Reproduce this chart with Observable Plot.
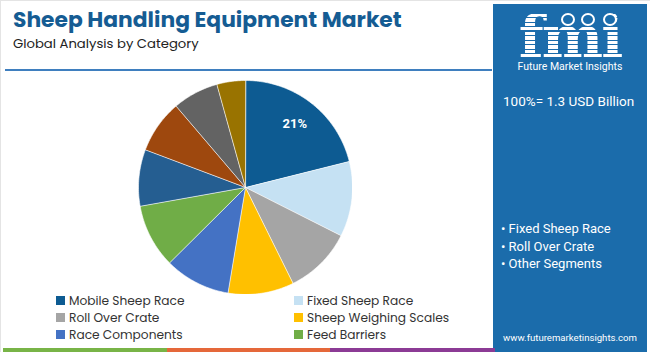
<!DOCTYPE html>
<html>
<head>
<meta charset="utf-8">
<script src="https://cdn.jsdelivr.net/npm/d3@7"></script>
<script src="https://cdn.jsdelivr.net/npm/@observablehq/plot@0.6"></script>
<style>
  html, body { margin: 0; padding: 0; background: #fff; }
  #wrap { position: relative; width: 650px; height: 352px; overflow: hidden; font-family: "Poppins", "Inter", "Roboto", sans-serif; box-sizing: border-box; border-left: 1px solid #e4e4e4; border-top: 1px solid #e4e4e4; }
  .abs { position: absolute; white-space: nowrap; }
  #title { left: 12px; top: 8px; font-size: 21.8px; line-height: 22px; font-weight: 700; color: #155c93; }
  #subtitle { left: 12px; top: 36px; font-size: 13.2px; line-height: 14px; color: #222; }
  #rule { left: 4px; top: 68px; width: 487px; height: 2px; background: #3f7fbf; }
  #pie { left: 137px; top: 79px; }
  .leg { font-size: 12.2px; line-height: 13px; color: #333; display: flex; align-items: center; }
  .sw { width: 9px; height: 9px; margin-right: 4px; display: inline-block; }
  #panel { left: 492px; top: 3px; width: 154px; height: 349px; background: #1b6cab; color: #fff; }
  #fmi { left: 0; width: 154px; top: 10px; text-align: center; font-family: "DejaVu Serif", serif; font-weight: 700; font-size: 58px; line-height: 46px; height: 46px;
         color: transparent; background: repeating-linear-gradient(to bottom, #fff 0px, #fff 3px, #1b6cab 3px, #1b6cab 4.5px); -webkit-background-clip: text; background-clip: text; letter-spacing: -2px; }
  #fmisub { left: 0; width: 154px; top: 57px; text-align: center; font-size: 10.5px; line-height: 11px; font-family: "Roboto", sans-serif; }
  .ico { position: absolute; width: 10px; height: 9px; border-radius: 50%; border: 2px solid #fff; background: #1b6cab; }
  #total { left: 10px; top: 90px; font-size: 13.5px; line-height: 14px; font-family: "Roboto", sans-serif; }
  .bul { left: 8px; font-size: 13px; line-height: 14px; font-family: "Roboto", sans-serif; }
  #url { left: 0; width: 154px; text-align: center; top: 328px; font-size: 9.6px; line-height: 11px; font-family: "Roboto", sans-serif; }
  .strip { top: 347px; height: 4px; }
</style>
</head>
<body>
<div id="wrap">
  <div id="title" class="abs">Sheep Handling Equipment Market</div>
  <div id="subtitle" class="abs">Global Analysis by Category</div>
  <div id="rule" class="abs"></div>
  <div id="pie" class="abs"></div>
  <div id="legend"></div>
  <div id="panel" class="abs">
    <div id="fmi" class="abs">fmi</div>
    <div class="ico" style="left:68px;top:9px"></div>
    <div class="ico" style="left:88px;top:9px"></div>
    <div class="ico" style="left:110px;top:9px"></div>
    <div id="fmisub" class="abs">Future Market Insights</div>
    <div id="total" class="abs">100%= 1.3 USD Billion</div>
    <div id="bullets"></div>
    <div id="url" class="abs">www.futuremarketinsights.com</div>
  </div>
  <div class="abs strip" style="left:2px;width:164px;background:#78b447"></div>
  <div class="abs strip" style="left:166px;width:163px;background:#e5683a"></div>
  <div class="abs strip" style="left:329px;width:165px;background:#8c3b95"></div>
</div>
<script>
const categories = ["Mobile Sheep Race", "Fixed Sheep Race", "Roll Over Crate", "Sheep Weighing Scales", "Race Components", "Feed Barriers", "Segment 7", "Segment 8", "Segment 9", "Segment 10"];
const shares = [21, 11.3, 10.2, 9.9, 9.9, 9.6, 8.5, 8.0, 6.9, 4.3];
const colors = ["#0d5b92", "#c5e1f3", "#a5a5a5", "#ffc000", "#4472c4", "#70ad47", "#255e91", "#9e480e", "#636363", "#997300"];
const legendCount = 6;
const bulletItems = ["Fixed Sheep Race", "Roll Over Crate", "Other Segments"];
const labelText = ["21%", "", "", "", "", "", "", "", "", ""];

const total = d3.sum(shares);
let acc = 0;
const slices = shares.map((v, i) => {
  const a0 = acc / total * 2 * Math.PI;
  acc += v;
  const a1 = acc / total * 2 * Math.PI;
  const n = Math.max(2, Math.ceil((a1 - a0) / (Math.PI / 180)));
  const ring = [[0, 0]];
  for (let k = 0; k <= n; k++) {
    const a = a0 + (a1 - a0) * k / n;
    ring.push([Math.sin(a), Math.cos(a)]);
  }
  ring.push([0, 0]);
  const am = (a0 + a1) / 2;
  return {
    type: "Feature",
    properties: { name: categories[i], value: v, color: colors[i], label: labelText[i], lx: 0.75 * Math.sin(am), ly: 0.75 * Math.cos(am) },
    geometry: { type: "Polygon", coordinates: [ring] }
  };
});
const outline = { type: "Polygon", coordinates: [d3.range(0, 361, 1).map(d => [Math.sin(d * Math.PI / 180), Math.cos(d * Math.PI / 180)])] };

const chart = Plot.plot({
  width: 214, height: 214, margin: 0, inset: 0,
  projection: { type: "reflect-y", domain: outline },
  marks: [
    Plot.geo(slices, { fill: d => d.properties.color, stroke: "#fff", strokeWidth: 0.6 }),
    Plot.text(slices.filter(d => d.properties.label), { x: d => d.properties.lx, y: d => d.properties.ly, text: d => d.properties.label, fill: "#fff", fontWeight: 700, fontSize: 13, fontFamily: "Roboto, sans-serif" })
  ]
});
document.getElementById("pie").appendChild(chart);

const leg = document.getElementById("legend");
categories.slice(0, legendCount).forEach((c, i) => {
  const row = Math.floor(i / 2), col = i % 2;
  const el = document.createElement("div");
  el.className = "abs leg";
  el.style.left = (col ? 293 : 55) + "px";
  el.style.top = (293 + row * 16.8) + "px";
  el.innerHTML = `<span class="sw" style="background:${colors[i]}"></span>${c}`;
  leg.appendChild(el);
});
const bl = document.getElementById("bullets");
bulletItems.forEach((b, i) => {
  const el = document.createElement("div");
  el.className = "abs bul";
  el.style.top = (218 + i * 17.5) + "px";
  el.textContent = "• " + b;
  bl.appendChild(el);
});
</script>
</body>
</html>
